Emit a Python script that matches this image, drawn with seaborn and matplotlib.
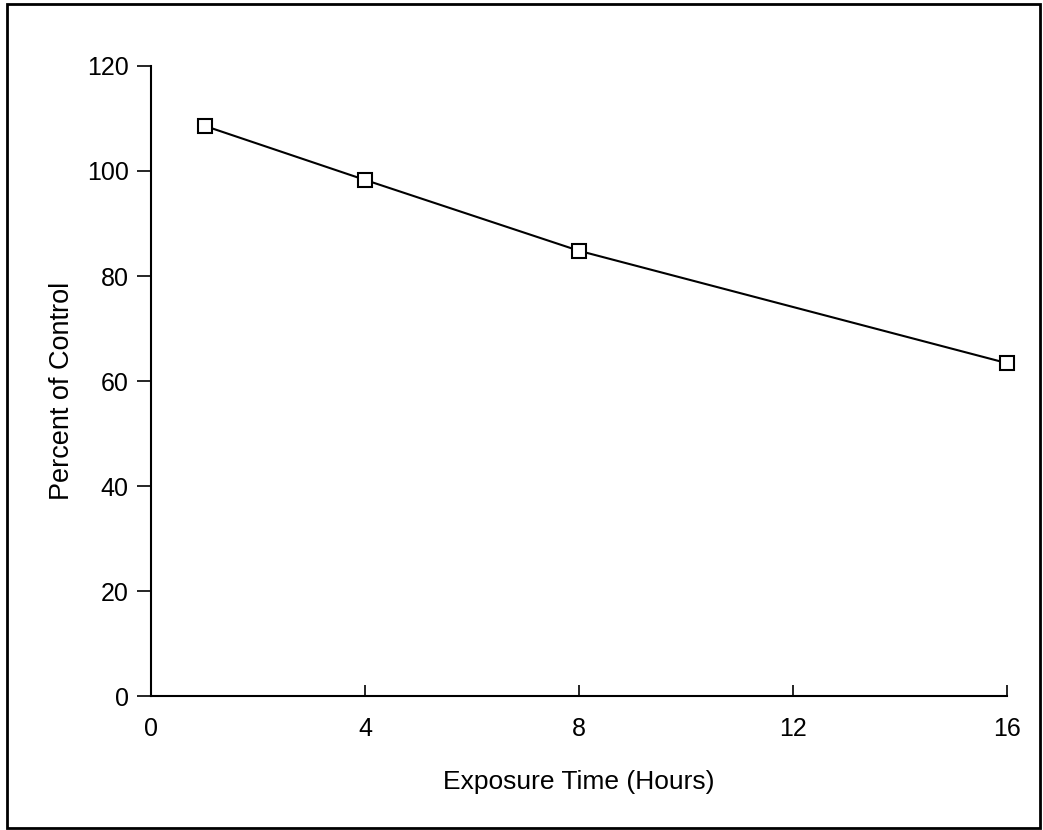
import pandas as pd
import seaborn as sns
import matplotlib.pyplot as plt
from matplotlib.patches import Rectangle

# data
hours = [1, 4, 8, 16]
percent = [108.6, 98.3, 84.8, 63.4]

df = pd.DataFrame({'hours': hours, 'percent': percent})

sns.set_style('ticks')
plt.rcParams['font.family'] = ['Liberation Sans', 'DejaVu Sans']

fig = plt.figure(figsize=(10.43, 8.3), dpi=100)
ax = fig.add_axes([0.1448, 0.1614, 0.8207, 0.7591])

sns.lineplot(data=df, x='hours', y='percent', ax=ax, color='black',
             linewidth=1.5, marker='s', markersize=10,
             markerfacecolor='white', markeredgecolor='black',
             markeredgewidth=1.5, clip_on=False)

ax.set_xlim(0, 16)
ax.set_ylim(0, 120)
ax.set_xticks([0, 4, 8, 12, 16])
ax.set_yticks(range(0, 121, 20))
ax.tick_params(axis='x', direction='in', length=8, width=1.2, labelsize=18, pad=15, colors='black')
ax.tick_params(axis='y', direction='out', length=10, width=1.2, labelsize=18, pad=6, colors='black')
for s in ['left', 'bottom']:
    ax.spines[s].set_linewidth(1.5)
    ax.spines[s].set_color('black')
sns.despine(ax=ax)

ax.set_xlabel('Exposure Time (Hours)', fontsize=19, labelpad=21, color='black')
ax.set_ylabel('Percent of Control', fontsize=19.5, color='black')
ax.yaxis.set_label_coords(-0.089, 0.484)

# frame around the whole figure
fig.patches.append(Rectangle((0.007, 0.003), 0.99, 0.992, transform=fig.transFigure,
                             fill=False, edgecolor='black', linewidth=2))

fig.savefig('out.png', dpi=100)
